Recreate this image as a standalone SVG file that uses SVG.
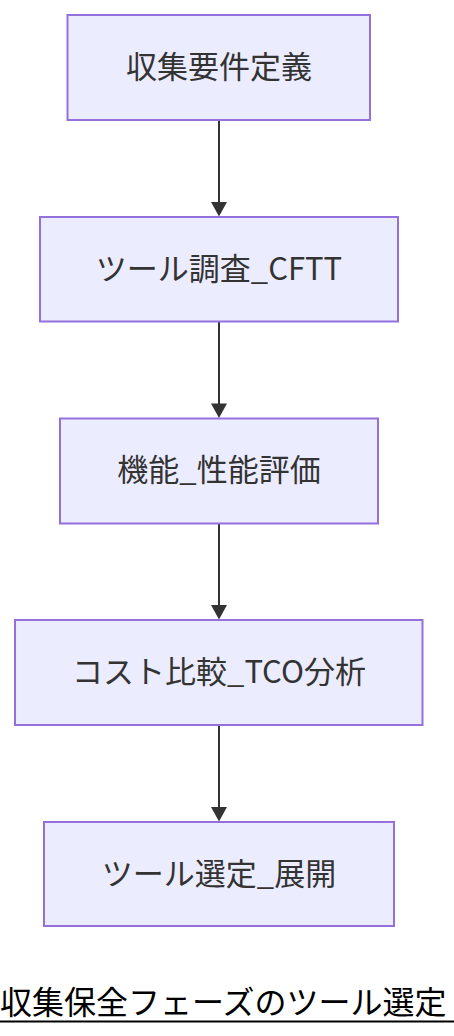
<svg xmlns="http://www.w3.org/2000/svg" width="454" height="1036" viewBox="0 0 454 1036">
<style>
.node rect{fill:#ECECFF;stroke:#9370DB;stroke-width:2}
.node text{font-family:"Noto Sans CJK JP","Noto Sans",sans-serif;font-size:31px;fill:#333;text-anchor:middle}
.edge{stroke:#333;stroke-width:2;fill:none}
.head{fill:#333}
.title{font-family:"Noto Sans CJK JP","Noto Sans",sans-serif;font-size:32px;fill:#000}
</style>
<rect width="454" height="1036" fill="#fff"/>
<g id="connectors">
<line class="edge" x1="219" y1="120" x2="219" y2="204"/>
<polygon class="head" points="211,202 227,202 219,216.5"/>
<line class="edge" x1="219" y1="321.5" x2="219" y2="405"/>
<polygon class="head" points="211,403.5 227,403.5 219,418"/>
<line class="edge" x1="219" y1="523.5" x2="219" y2="607"/>
<polygon class="head" points="211,605 227,605 219,619.5"/>
<line class="edge" x1="219" y1="725" x2="219" y2="809"/>
<polygon class="head" points="211,807 227,807 219,821.5"/>
</g>
<g id="n1" class="node"><rect x="67.5" y="15" width="302.5" height="105"/><text x="219" y="78">収集要件定義</text></g>
<g id="n2" class="node"><rect x="40" y="217" width="358" height="104.5"/><text x="219" y="279.5">ツール調査_CFTT</text></g>
<g id="n3" class="node"><rect x="60" y="418.5" width="318" height="105"/><text x="219" y="481">機能_性能評価</text></g>
<g id="n4" class="node"><rect x="15" y="620" width="407.5" height="105"/><text x="219" y="683">コスト比較_TCO分析</text></g>
<g id="n5" class="node"><rect x="44" y="822" width="350" height="104"/><text x="219" y="884.5">ツール選定_展開</text></g>
<g id="title">
<text class="title" x="0" y="1014">収集保全フェーズのツール選定</text>
<line x1="0" y1="1021.5" x2="454" y2="1021.5" stroke="#000" stroke-width="2"/>
</g>
</svg>
